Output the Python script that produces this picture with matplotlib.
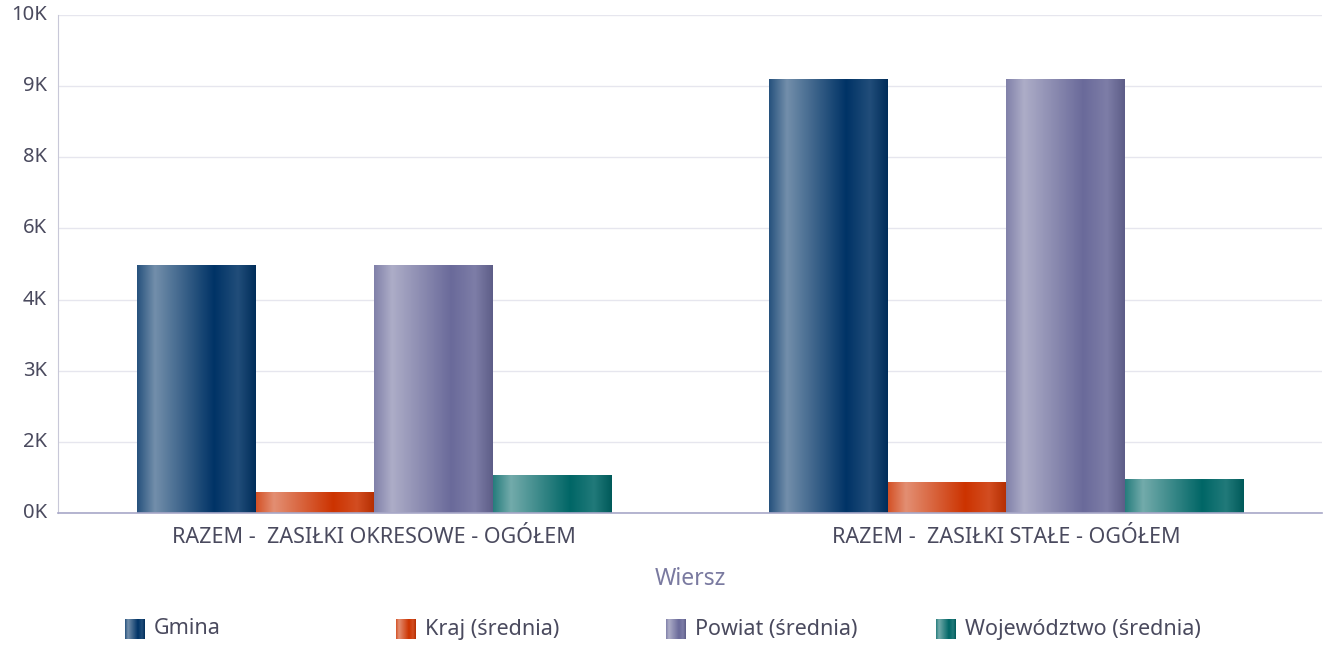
import numpy as np
import matplotlib
matplotlib.use("Agg")
import matplotlib.pyplot as plt
from matplotlib.colors import to_rgb, LinearSegmentedColormap

plt.rcParams['font.family'] = ['Noto Sans', 'DejaVu Sans']

categories = ["RAZEM -  ZASIŁKI OKRESOWE - OGÓŁEM", "RAZEM -  ZASIŁKI STAŁE - OGÓŁEM"]
series = ["Gmina", "Kraj (średnia)", "Powiat (średnia)", "Województwo (średnia)"]
gmina = [4960, 8700]
kraj = [420, 620]
powiat = [4960, 8700]
wojewodztwo = [745, 665]
values = [gmina, kraj, powiat, wojewodztwo]
base_colors = ["#003366", "#cc3300", "#6a6a9a", "#006666"]
ytick_labels = ["0K", "2K", "3K", "4K", "6K", "8K", "9K", "10K"]
ymax = 10000


def mix(c, w):
    c = np.array(to_rgb(c))
    if w >= 0:
        return tuple(c + (1 - c) * w)
    return tuple(c * (1 + w))


def grad_cmap(c):
    stops = [(0.0, mix(c, 0.15)), (0.15, mix(c, 0.45)), (0.65, mix(c, 0.0)),
             (0.85, mix(c, 0.13)), (1.0, mix(c, -0.12))]
    return LinearSegmentedColormap.from_list("g", stops)


W, H = 1326, 645
fig = plt.figure(figsize=(W / 100, H / 100), dpi=100)
ax = fig.add_axes([58 / W, (H - 513) / H, 1264 / W, 498 / H])

x = np.arange(len(categories))
n = len(series)
group_w = 0.75
bw = group_w / n
grad = np.linspace(0, 1, 256).reshape(1, -1)
for i, (name, vals, col) in enumerate(zip(series, values, base_colors)):
    offs = x - group_w / 2 + bw * (i + 0.5)
    bars = ax.bar(offs, vals, width=bw, color="none", edgecolor="none", zorder=2)
    cm = grad_cmap(col)
    for b in bars:
        x0, y0 = b.get_x(), b.get_y()
        ax.imshow(grad, cmap=cm, aspect="auto", extent=[x0, x0 + b.get_width(), y0, y0 + b.get_height()],
                  zorder=2, interpolation="bilinear")

ax.set_xlim(-0.5, len(categories) - 0.5)
ax.set_ylim(0, ymax)
ticks = np.arange(len(ytick_labels)) * ymax / (len(ytick_labels) - 1)
ax.set_yticks(ticks)
ax.set_yticklabels(ytick_labels)
ax.set_xticks(x)
ax.set_xticklabels(categories)
ax.grid(axis="y", color="#e6e6ee", linewidth=1, zorder=0)
ax.set_axisbelow(True)
for s in ["top", "right"]:
    ax.spines[s].set_visible(False)
ax.spines["left"].set_color("#c8c8d8")
ax.spines["bottom"].set_color("#a8a8c8")
ax.spines["bottom"].set_linewidth(1.2)
ax.tick_params(axis="y", length=0, pad=8, labelsize=14.5, labelcolor="#4a4a5e")
ax.tick_params(axis="x", length=0, pad=10, labelsize=15.5, labelcolor="#4a4a5e")
for lab in ax.get_yticklabels():
    lab.set_verticalalignment("center")
ax.set_xlabel("Wiersz", fontsize=16.5, color="#7a7aa0", labelpad=14)

# legend
leg_x = [125, 396, 666, 936]
leg_y = 629
for lx, name, col in zip(leg_x, series, base_colors):
    lax = fig.add_axes([lx / W, (H - leg_y - 10) / H, 20 / W, 20 / H])
    lax.imshow(grad, cmap=grad_cmap(col), aspect="auto", extent=[0, 1, 0, 1])
    lax.set_axis_off()
    fig.text((lx + 29) / W, (H - leg_y) / H, name, fontsize=15.5, color="#4a4a5e", va="center", ha="left")

fig.savefig("out.png", dpi=100)
